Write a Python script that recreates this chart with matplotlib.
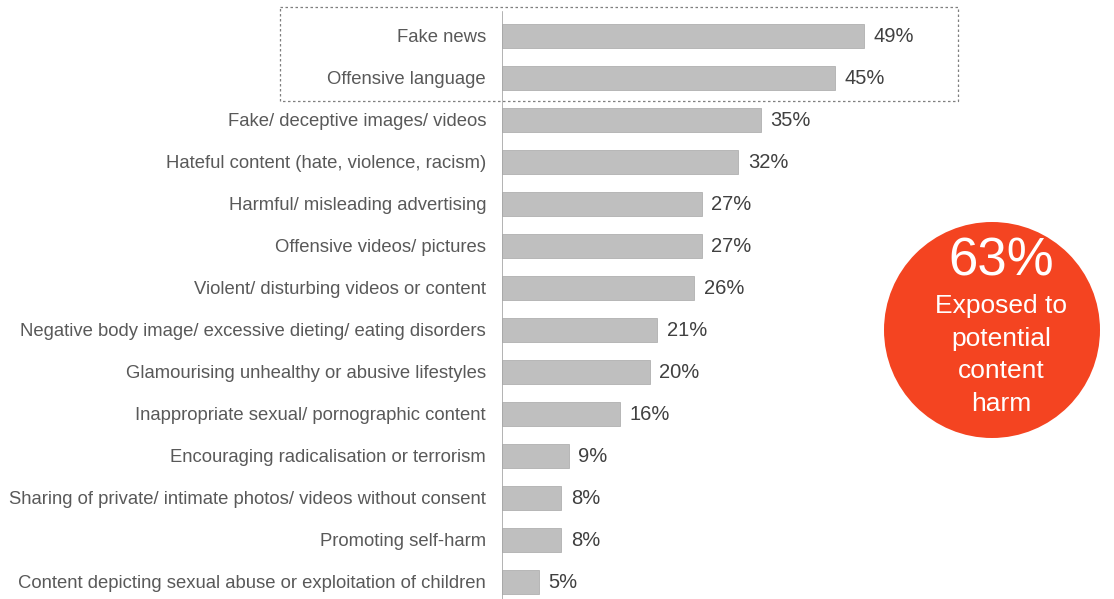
import numpy as np
import matplotlib
matplotlib.use("Agg")
import matplotlib.pyplot as plt
from matplotlib.patches import Circle, Rectangle

plt.rcParams['font.family'] = ['Liberation Sans', 'DejaVu Sans']

categories = [
    "Fake news",
    "Offensive language",
    "Fake/ deceptive images/ videos",
    "Hateful content (hate, violence, racism)",
    "Harmful/ misleading advertising",
    "Offensive videos/ pictures",
    "Violent/ disturbing videos or content",
    "Negative body image/ excessive dieting/ eating disorders",
    "Glamourising unhealthy or abusive lifestyles",
    "Inappropriate sexual/ pornographic content",
    "Encouraging radicalisation or terrorism",
    "Sharing of private/ intimate photos/ videos without consent",
    "Promoting self-harm",
    "Content depicting sexual abuse or exploitation of children",
]
values = [49, 45, 35, 32, 27, 27, 26, 21, 20, 16, 9, 8, 8, 5]
headline = "63%"
headline_text = "Exposed to\npotential\ncontent\nharm"

W, H = 1114, 599
fig = plt.figure(figsize=(W / 100, H / 100), dpi=100)

# bar axes: zero line sits at x=502 px, 7.39 px per percentage point
x0 = 502
ax = fig.add_axes([x0 / W, 0, 1 - x0 / W, 1])
pos = np.arange(len(categories))
ax.barh(pos, values, height=0.57, color="#bfbfbf", edgecolor="#b0b0b0", linewidth=0.6)
ax.set_xlim(0, (W - x0) / 7.39)
ax.set_ylim((H - 36) / 42, -36 / 42)

for p, v in zip(pos, values):
    ax.text(v + 1.3, p, f"{v}%", va="center", ha="left", fontsize=14.5, color="#404040")

ax.set_yticks(pos)
ax.set_yticklabels(categories, fontsize=13.3, color="#595959")
ax.tick_params(axis="y", length=0, pad=11.5)
ax.set_xticks([])
for s in ax.spines.values():
    s.set_visible(False)
ax.axvline(0, ymin=0, ymax=1 - 12 / H, color="#a6a6a6", lw=1.2)

# overlay in pixel coordinates for the dashed box and the callout
ov = fig.add_axes([0, 0, 1, 1], zorder=5)
ov.set_xlim(0, W)
ov.set_ylim(H, 0)
ov.axis("off")
ov.patch.set_alpha(0)
ov.add_patch(Rectangle((280, 7), 678, 94, fill=False, edgecolor="#7f7f7f",
                       lw=0.9, linestyle=(0, (2, 2))))
ov.add_patch(Circle((992, 330), 108, color="#f44421", lw=0))
ov.text(1001, 261, headline, ha="center", va="center", fontsize=38, color="white")
ov.text(1001, 355, headline_text, ha="center", va="center", fontsize=19,
        color="white", linespacing=1.46)

fig.savefig("out.png", dpi=100)
